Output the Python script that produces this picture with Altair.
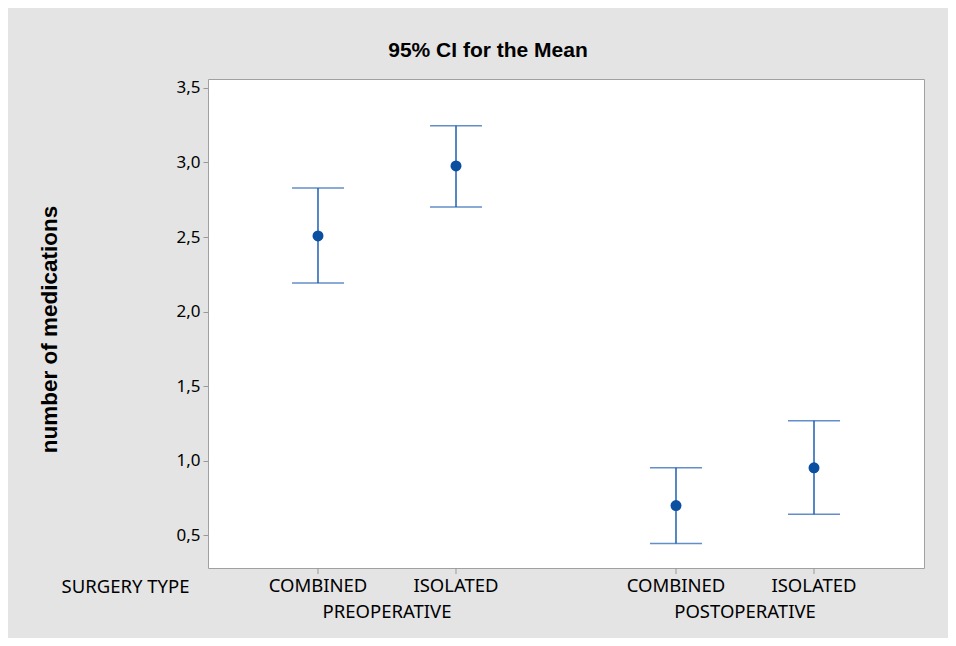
import altair as alt
import pandas as pd

# ---- data ----
periods = ["PREOPERATIVE", "PREOPERATIVE", "POSTOPERATIVE", "POSTOPERATIVE"]
types = ["COMBINED", "ISOLATED", "COMBINED", "ISOLATED"]
means = [2.507, 2.977, 0.699, 0.952]
lower = [2.191, 2.701, 0.444, 0.641]
upper = [2.829, 3.247, 0.952, 1.267]

period_order = ["PREOPERATIVE", "POSTOPERATIVE"]
type_order = ["COMBINED", "ISOLATED"]
y_ticks = [0.5, 1.0, 1.5, 2.0, 2.5, 3.0, 3.5]

df = pd.DataFrame({"period": periods, "type": types, "mean": means,
                   "lower": lower, "upper": upper})

LABEL_FONT = "Noto Sans"
BOLD_FONT = "Liberation Sans"
PW, PH = 716, 489
POINT_COL = "#0a4fa0"
LINE_COL = "#1f5fb2"
XFS = 18.5

x_enc = alt.X(
    "period:N", sort=period_order,
    scale=alt.Scale(paddingInner=0, paddingOuter=0),
    axis=alt.Axis(
        title="SURGERY TYPE", titleFont=LABEL_FONT, titleFontSize=XFS,
        titleFontWeight="normal", titleColor="black",
        titleX=-19, titleY=24, titleAlign="right", titleBaseline="alphabetic",
        titleAngle=0,
        labelFont=LABEL_FONT, labelFontSize=XFS, labelColor="black",
        labelAngle=0, labelBaseline="alphabetic", labelPadding=49,
        ticks=False, domain=False, grid=False,
    ),
)
xo_enc = alt.XOffset(
    "type:N", sort=type_order,
    scale=alt.Scale(paddingInner=0, paddingOuter=0.297),
)
y_scale = alt.Scale(domain=[0.28, 3.56], nice=False, zero=False)
y_axis = alt.Axis(
    values=y_ticks,
    labelExpr="replace(format(datum.value, '.1f'), '.', ',')",
    tickSize=5, tickColor="#999999", tickWidth=1,
    domain=False, grid=False,
    labelFont=LABEL_FONT, labelFontSize=17, labelColor="black", labelPadding=3,
    title="number of medications", titleFont=BOLD_FONT, titleFontSize=22.5,
    titleFontWeight="bold", titleColor="black",
    titleX=-159, titleY=250, titleAlign="center", titleBaseline="middle",
    titleAngle=270,
)

base = alt.Chart(df)

stems = base.mark_rule(color=LINE_COL, strokeWidth=1.5).encode(
    x=x_enc, xOffset=xo_enc,
    y=alt.Y("lower:Q", scale=y_scale, axis=y_axis),
    y2="upper:Q",
)
caps_low = base.mark_tick(color=LINE_COL, size=52, thickness=1.5,
                          orient="horizontal").encode(
    x=x_enc, xOffset=xo_enc, y=alt.Y("lower:Q", scale=y_scale, axis=y_axis),
)
caps_up = base.mark_tick(color=LINE_COL, size=52, thickness=1.5,
                         orient="horizontal").encode(
    x=x_enc, xOffset=xo_enc, y=alt.Y("upper:Q", scale=y_scale, axis=y_axis),
)
points = base.mark_circle(color=POINT_COL, opacity=1, size=120).encode(
    x=x_enc, xOffset=xo_enc, y=alt.Y("mean:Q", scale=y_scale, axis=y_axis),
)
type_ticks = base.mark_rule(color="#999999", strokeWidth=1).encode(
    x=x_enc, xOffset=xo_enc, y=alt.value(PH), y2=alt.value(PH + 6),
)
type_labels = base.mark_text(font=LABEL_FONT, fontSize=XFS, color="black",
                             baseline="alphabetic", align="center").encode(
    x=x_enc, xOffset=xo_enc, y=alt.value(PH + 24), text="type:N",
)

chart = alt.layer(stems, caps_low, caps_up, points, type_ticks, type_labels).properties(
    width=PW, height=PH,
    title=alt.TitleParams("95% CI for the Mean", font=BOLD_FONT, fontSize=21,
                          fontWeight="bold", color="black", anchor="middle",
                          dx=-78, offset=1, baseline="alphabetic"),
    background="#e4e4e4",
    padding={"left": 200, "top": 71, "right": 24, "bottom": 70},
    autosize=alt.AutoSizeParams(type="none"),
).configure_view(
    fill="white", stroke="#a0a0a0", strokeWidth=1,
)

chart.save("out.html", embed_options={"renderer": "svg", "actions": False})
